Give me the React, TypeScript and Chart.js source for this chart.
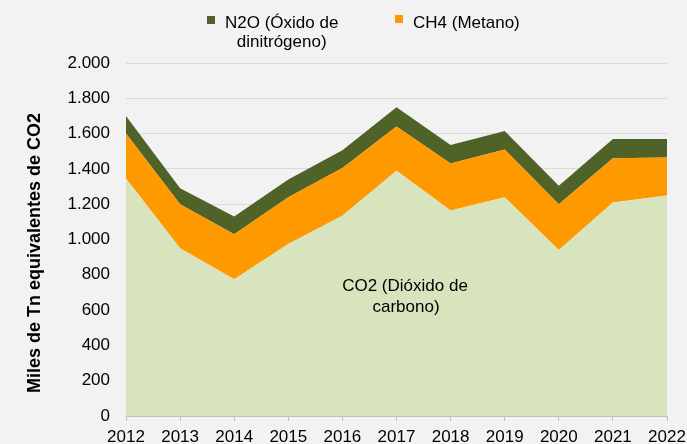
import React, { useEffect, useRef } from "react";
import { Chart, registerables } from "chart.js";

Chart.register(...registerables);

const years = ["2012", "2013", "2014", "2015", "2016", "2017", "2018", "2019", "2020", "2021", "2022"];
const co2 = [1345, 950, 775, 975, 1135, 1390, 1165, 1240, 940, 1210, 1250];
const ch4 = [255, 250, 255, 265, 270, 250, 265, 270, 260, 250, 215];
const n2o = [100, 90, 100, 100, 100, 110, 105, 105, 105, 110, 105];

const labelCO2 = ["CO2 (Dióxido de", "carbono)"];
const labelN2O = ["N2O (Óxido de", "dinitrógeno)"];
const labelCH4 = "CH4 (Metano)";
const yTitle = "Miles de Tn equivalentes de CO2";

const C_CO2 = "#D7E4BD";
const C_CH4 = "#FF9900";
const C_N2O = "#4F6228";
const FONT = "Liberation Sans, Arial, sans-serif";

function fmt(v: number): string {
  const s = Math.round(v).toString();
  return s.replace(/\B(?=(\d{3})+(?!\d))/g, ".");
}

const overlay = {
  id: "overlay",
  afterDatasetsDraw(chart: any) {
    const ctx = chart.ctx;
    ctx.save();
    ctx.fillStyle = "#000";
    ctx.font = `17px ${FONT}`;
    ctx.textAlign = "center";
    ctx.textBaseline = "alphabetic";
    ctx.fillText(labelCO2[0], 405, 291);
    ctx.fillText(labelCO2[1], 406, 312);
    ctx.restore();
  },
  afterDraw(chart: any) {
    const ctx = chart.ctx;
    ctx.save();
    ctx.fillStyle = C_N2O;
    ctx.fillRect(207, 16, 8, 8);
    ctx.fillStyle = C_CH4;
    ctx.fillRect(395, 15, 8, 8);
    ctx.fillStyle = "#000";
    ctx.font = `17px ${FONT}`;
    ctx.textBaseline = "alphabetic";
    ctx.textAlign = "left";
    ctx.fillText(labelN2O[0], 225, 28);
    const w1 = ctx.measureText(labelN2O[0]).width;
    ctx.textAlign = "center";
    ctx.fillText(labelN2O[1], 225 + w1 / 2, 47);
    ctx.textAlign = "left";
    ctx.fillText(labelCH4, 413, 28);
    ctx.translate(35, 253);
    ctx.rotate(-Math.PI / 2);
    ctx.font = `bold 18px ${FONT}`;
    ctx.textAlign = "center";
    ctx.textBaseline = "middle";
    ctx.fillText(yTitle, 0, 0);
    ctx.restore();
  },
};

export default function App() {
  const ref = useRef<HTMLCanvasElement | null>(null);
  useEffect(() => {
    if (!ref.current) return;
    const chart = new Chart(ref.current, {
      type: "line",
      data: {
        labels: years,
        datasets: [
          {
            label: "CO2",
            data: co2,
            backgroundColor: C_CO2,
            borderWidth: 0,
            pointRadius: 0,
            fill: "origin",
            tension: 0,
          },
          {
            label: "CH4",
            data: ch4,
            backgroundColor: C_CH4,
            borderWidth: 0,
            pointRadius: 0,
            fill: "-1",
            tension: 0,
          },
          {
            label: "N2O",
            data: n2o,
            backgroundColor: C_N2O,
            borderWidth: 0,
            pointRadius: 0,
            fill: "-1",
            tension: 0,
          },
        ],
      },
      options: {
        responsive: false,
        animation: false,
        devicePixelRatio: 1,
        layout: { padding: { top: 63, right: 20, left: 0, bottom: 0 } },
        plugins: {
          legend: { display: false },
          tooltip: { enabled: false },
        },
        scales: {
          x: {
            type: "category",
            offset: false,
            grid: {
              drawOnChartArea: false,
              drawTicks: true,
              tickLength: 5,
              color: "#BFBFBF",
            },
            border: { display: true, color: "#BFBFBF", width: 1 },
            ticks: {
              color: "#000",
              font: { family: FONT, size: 17 },
              padding: 6,
              maxRotation: 0,
              autoSkip: false,
            },
            afterFit(scale: any) {
              scale.height = 28;
              scale.paddingLeft = 0;
              scale.paddingRight = 0;
            },
          },
          y: {
            stacked: true,
            min: 0,
            max: 2000,
            grid: { color: "#D9D9D9", drawTicks: false, lineWidth: 1 },
            border: { display: false },
            ticks: {
              stepSize: 200,
              color: "#000",
              font: { family: FONT, size: 17 },
              padding: 16,
              callback: (v: any) => fmt(Number(v)),
            },
            afterFit(scale: any) {
              scale.width = 126;
              scale.paddingTop = 0;
              scale.paddingBottom = 0;
            },
          },
        },
      },
      plugins: [overlay],
    });
    return () => chart.destroy();
  }, []);
  return (
    <div
      style={{
        position: "fixed",
        left: 0,
        top: 0,
        width: 687,
        height: 444,
        background: "#F2F2F2",
      }}
    >
      <canvas ref={ref} width={687} height={444} style={{ display: "block" }} />
    </div>
  );
}
